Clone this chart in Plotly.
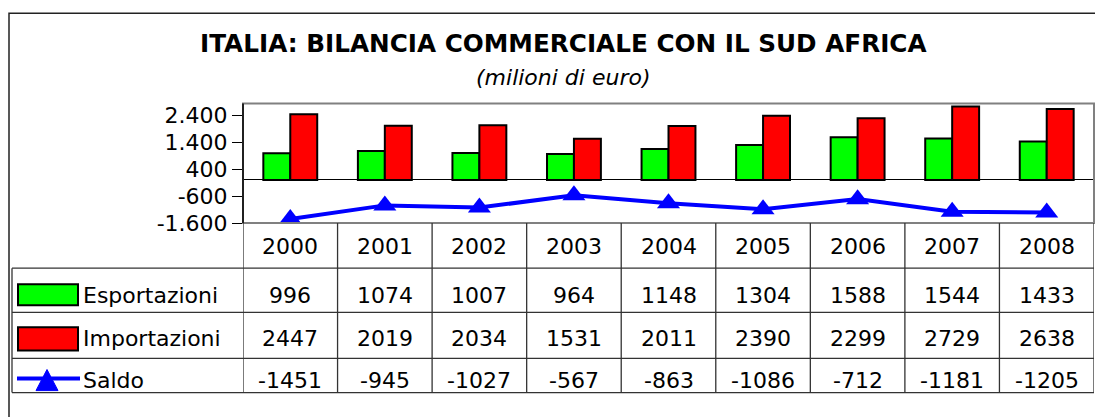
import plotly.graph_objects as go

# dati (milioni di euro)
anni = ["2000", "2001", "2002", "2003", "2004", "2005", "2006", "2007", "2008"]
esportazioni = [996, 1074, 1007, 964, 1148, 1304, 1588, 1544, 1433]
importazioni = [2447, 2019, 2034, 1531, 2011, 2390, 2299, 2729, 2638]
saldo = [-1451, -945, -1027, -567, -863, -1086, -712, -1181, -1205]

tick_vals = [-1600, -600, 400, 1400, 2400]
tick_text = ["-1.600", "-600", "400", "1.400", "2.400"]

# page keeps its 8px body margin; the snapshot comes out squeezed vertically
OFF = 8
SY = 0.9653
W, H = 1103 - 2 * OFF, 414
FONT = "DejaVu Sans"


def px(x):
    return (x - OFF) / W


def py(y):
    return 1 - (y / SY - OFF) / H


# pixel geometry (as seen in the target picture) of plot area / table
PL, PR, PT, PB = 243, 1094, 103, 222
ROW_Y = [267, 311, 357, 391]
TL = 12

fig = go.Figure()
fig.add_trace(go.Bar(x=anni, y=esportazioni, name="Esportazioni",
                     marker=dict(color="#00FF00", line=dict(color="black", width=2))))
fig.add_trace(go.Bar(x=anni, y=importazioni, name="Importazioni",
                     marker=dict(color="#FF0000", line=dict(color="black", width=2))))
fig.add_trace(go.Scatter(x=anni, y=saldo, name="Saldo", mode="lines+markers",
                         line=dict(color="#0000FF", width=4),
                         marker=dict(symbol="triangle-up", size=20, color="#0000FF")))

shapes = []
ann = []

# outer frame
shapes.append(dict(type="rect", xref="paper", yref="paper", x0=px(9), x1=px(1120),
                   y0=py(460), y1=py(13), line=dict(color="#222", width=1.5)))
# plot area border
shapes.append(dict(type="rect", xref="paper", yref="paper", x0=px(PL), x1=px(PR),
                   y0=py(PB), y1=py(PT), line=dict(color="#808080", width=2)))
shapes.append(dict(type="line", xref="paper", yref="paper", x0=px(PL), x1=px(PL),
                   y0=py(PB), y1=py(PT), line=dict(color="black", width=1.5)))

# table lines
lc = dict(color="#333", width=1.3)
for y in ROW_Y:
    shapes.append(dict(type="line", xref="paper", yref="paper", x0=px(TL), x1=px(PR),
                       y0=py(y), y1=py(y), line=lc))
shapes.append(dict(type="line", xref="paper", yref="paper", x0=px(TL), x1=px(TL),
                   y0=py(ROW_Y[0]), y1=py(ROW_Y[-1]), line=lc))
for i in range(len(anni) + 1):
    shapes.append(dict(type="line", xref="x", yref="paper", x0=i - 0.5, x1=i - 0.5,
                       y0=py(PB), y1=py(ROW_Y[-1]), line=lc))

# legend keys
shapes.append(dict(type="rect", xref="paper", yref="paper", x0=px(18), x1=px(78),
                   y0=py(304), y1=py(283), fillcolor="#00FF00",
                   line=dict(color="black", width=2)))
shapes.append(dict(type="rect", xref="paper", yref="paper", x0=px(18), x1=px(78),
                   y0=py(349), y1=py(326), fillcolor="#FF0000",
                   line=dict(color="black", width=2)))
shapes.append(dict(type="line", xref="paper", yref="paper", x0=px(17), x1=px(80),
                   y0=py(377), y1=py(377), line=dict(color="#0000FF", width=4)))
shapes.append(dict(type="path", xref="paper", yref="paper",
                   path=f"M {px(36)} {py(389)} L {px(58)} {py(389)} L {px(47)} {py(368)} Z",
                   fillcolor="#0000FF", line=dict(color="#0000FF", width=1)))

fs = 22
# year header row
for i, a in enumerate(anni):
    ann.append(dict(x=i, y=py(245), xref="x", yref="paper", text=a, showarrow=False,
                    font=dict(family=FONT, size=fs, color="black"), yanchor="middle"))

rows = [("Esportazioni", esportazioni, 294), ("Importazioni", importazioni, 337),
        ("Saldo", saldo, 379)]
for label, vals, yc in rows:
    ann.append(dict(x=px(81), y=py(yc), xref="paper", yref="paper", text=label,
                    showarrow=False, xanchor="left", yanchor="middle",
                    font=dict(family=FONT, size=fs, color="black")))
    for i, v in enumerate(vals):
        ann.append(dict(x=i, y=py(yc), xref="x", yref="paper", text=str(v),
                        showarrow=False, yanchor="middle",
                        font=dict(family=FONT, size=fs, color="black")))

# titles
ann.append(dict(x=px(563), y=py(43), xref="paper", yref="paper",
                text="<b>ITALIA: BILANCIA COMMERCIALE CON IL SUD AFRICA</b>",
                showarrow=False, yanchor="middle",
                font=dict(family=FONT, size=24.7, color="black")))
ann.append(dict(x=px(563), y=py(77), xref="paper", yref="paper",
                text="<i>(milioni di euro)</i>", showarrow=False, yanchor="middle",
                font=dict(family=FONT, size=22, color="black")))

fig.update_layout(
    width=W, height=H,
    margin=dict(l=0, r=0, t=0, b=0),
    paper_bgcolor="white", plot_bgcolor="white",
    showlegend=False,
    barmode="group", bargap=0.43, bargroupgap=0,
    xaxis=dict(type="category", domain=[px(PL), px(PR)], range=[-0.5, 8.5],
               showticklabels=False, showgrid=False, zeroline=False, showline=False,
               ticks=""),
    yaxis=dict(domain=[py(PB), py(PT)], range=[-1600, 2840], tickvals=tick_vals,
               ticktext=tick_text, ticks="outside", ticklen=10, tickcolor="black",
               showgrid=False, zeroline=True, zerolinecolor="black", zerolinewidth=1,
               showline=False,
               tickfont=dict(family=FONT, size=fs, color="black")),
    shapes=shapes,
    annotations=ann,
)

fig.write_html("out.html")
